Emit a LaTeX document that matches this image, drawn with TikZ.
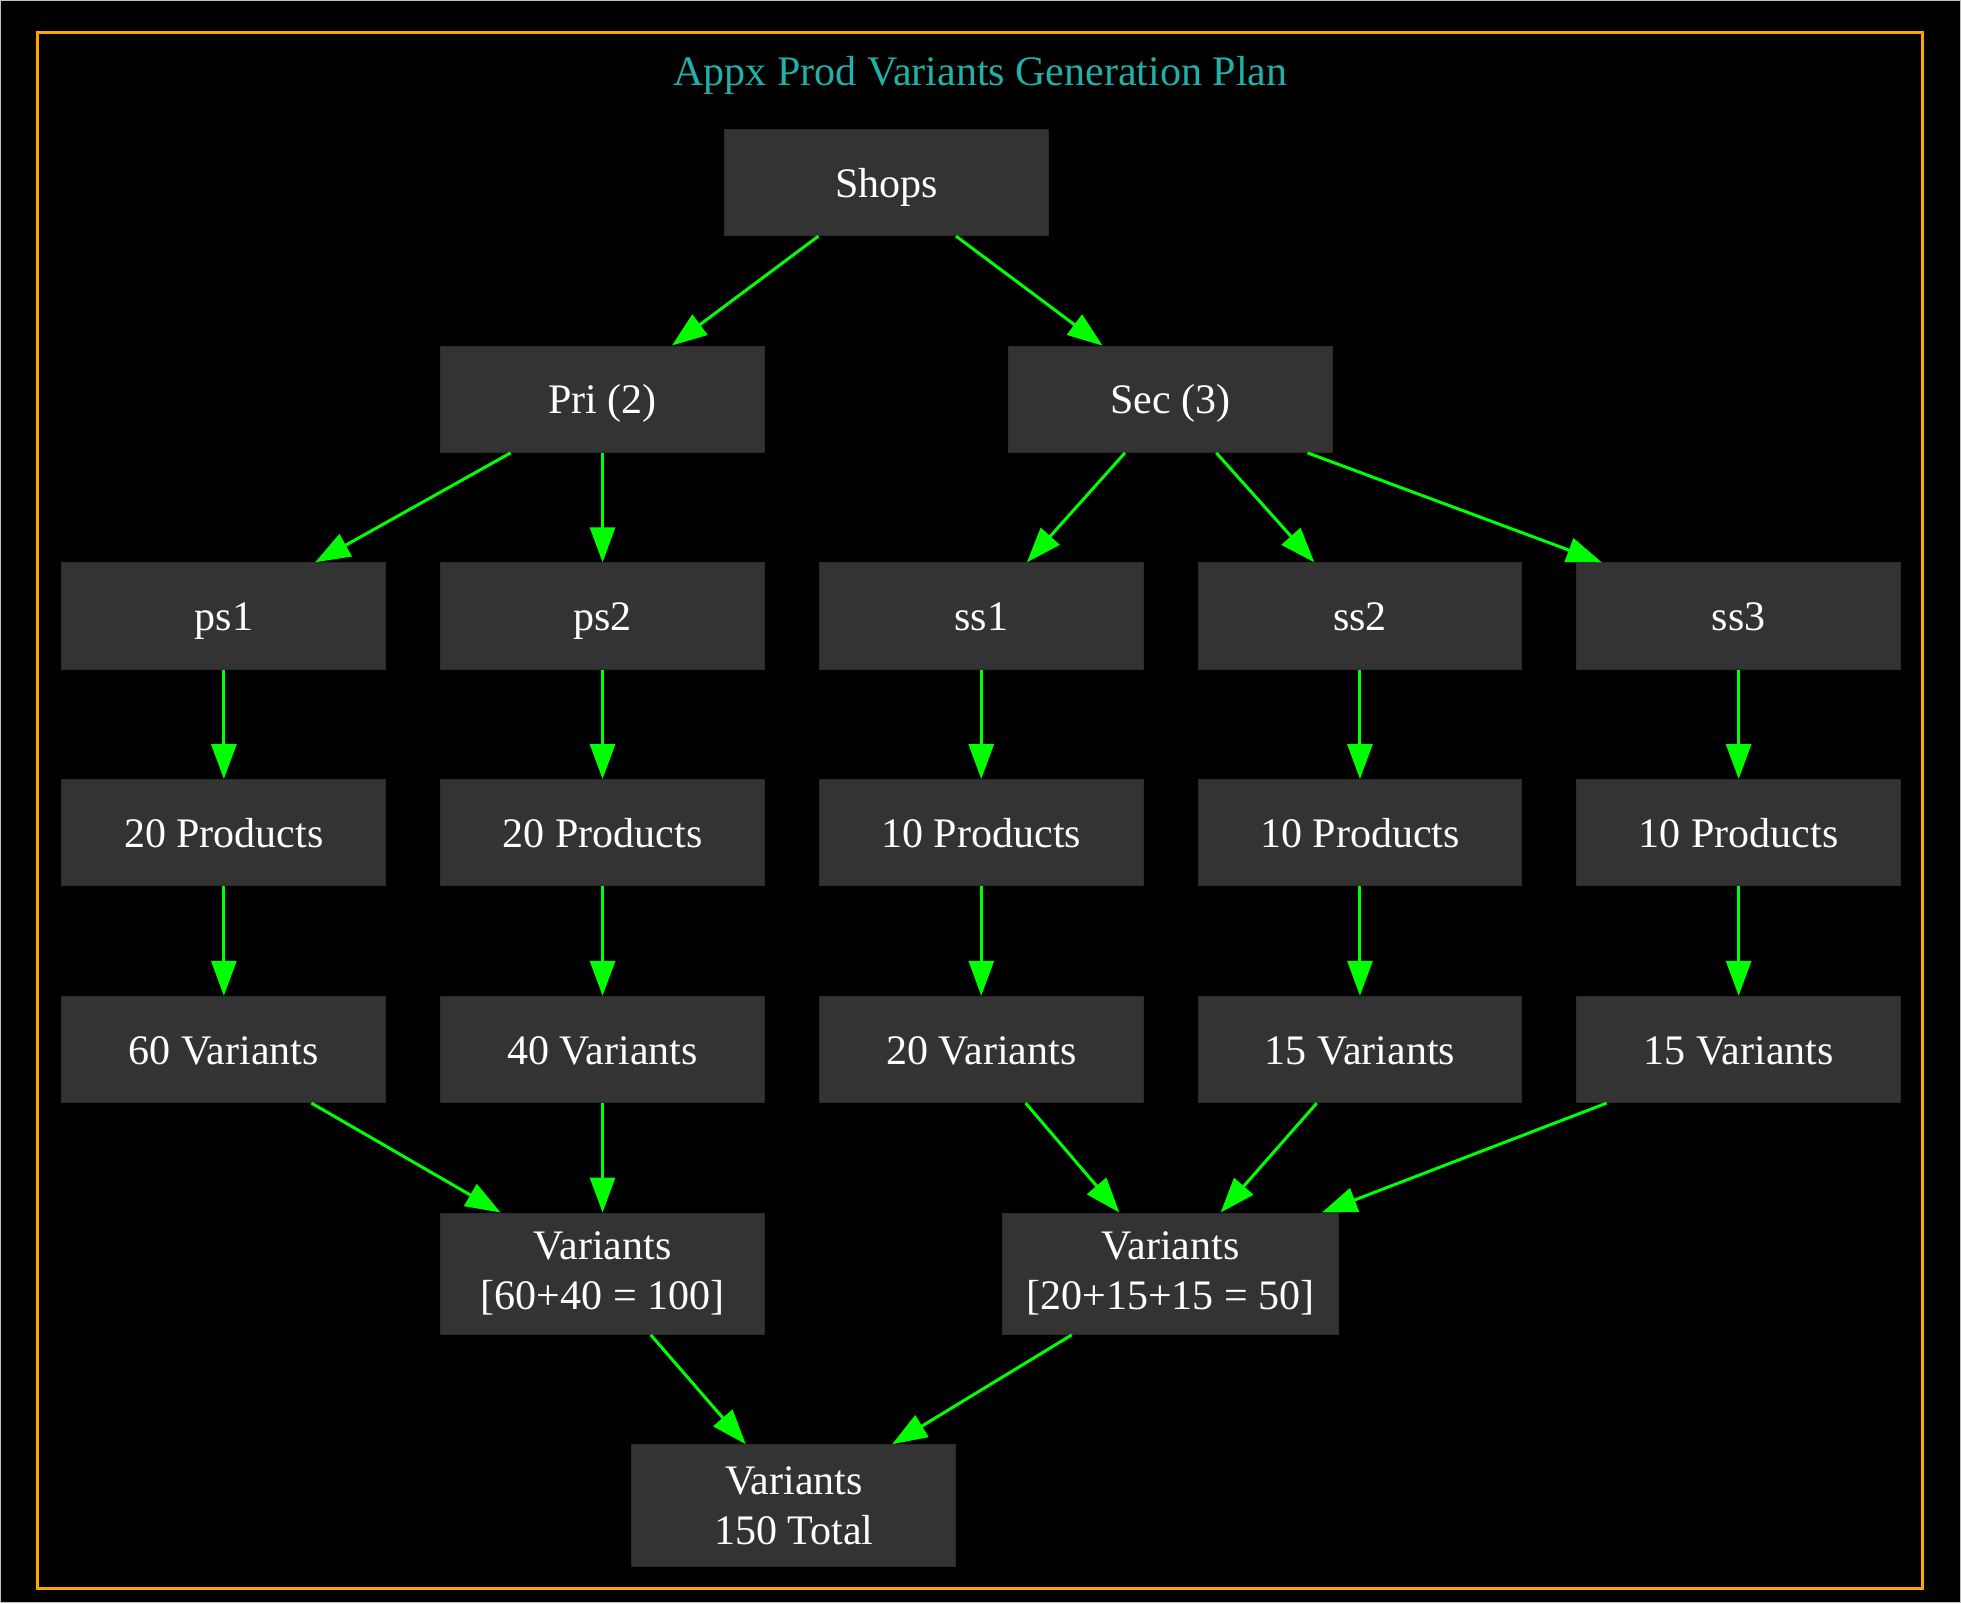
\documentclass[tikz,border=0pt]{standalone}
\usepackage{fontspec}
\setmainfont{Liberation Serif}
\usepackage{xcolor}
\usepackage{tikz}
\usetikzlibrary{arrows.meta,positioning,calc}

\definecolor{nodefill}{HTML}{333333}
\definecolor{edgegreen}{HTML}{00FF00}
\definecolor{frameorange}{HTML}{FFA500}
\definecolor{titleteal}{HTML}{20B2AA}

\begin{document}
\begin{tikzpicture}[node distance=43.75pt and 21.5pt, auto,
    box/.style={rectangle, fill=nodefill, draw=nodefill!85!black, text=white,
        minimum width=129.5pt, minimum height=42.5pt, inner xsep=9.5pt,
        text height=15.3pt, text depth=3.6pt,
        align=center, font=\fontsize{16.8}{20}\selectfont},
    sumbox/.style={box, text height=, text depth=, minimum height=48.5pt},
    flow/.style={edgegreen, line width=1.2pt, -{Triangle[length=14pt,width=10pt]}}]
    \useasboundingbox (0,0) rectangle (784pt,-641pt);
    \fill [black] (0,0) rectangle (784pt,-641pt);
    \draw [black!25, line width=0.5pt] (0.25pt,-0.25pt) rectangle (783.75pt,-640.75pt);
    \draw [frameorange, line width=1.25pt] (15pt,-13pt) rectangle (768.5pt,-635pt);
    \node (title) [text=titleteal, font=\fontsize{16.8}{20}\selectfont] at (392pt,-30pt) {Appx Prod Variants Generation Plan};

    \node (ps1) [box] at (89.5pt,-246.25pt) {ps1};
    \node (ps2) [box, right=of ps1] {ps2};
    \node (ss1) [box, right=of ps2] {ss1};
    \node (ss2) [box, right=of ss1] {ss2};
    \node (ss3) [box, right=of ss2] {ss3};

    \node (pp1) [box, below=of ps1] {20 Products};
    \node (pp2) [box, below=of ps2] {20 Products};
    \node (sp1) [box, below=of ss1] {10 Products};
    \node (sp2) [box, below=of ss2] {10 Products};
    \node (sp3) [box, below=of ss3] {10 Products};

    \node (pv1) [box, below=of pp1] {60 Variants};
    \node (pv2) [box, below=of pp2] {40 Variants};
    \node (sv1) [box, below=of sp1] {20 Variants};
    \node (sv2) [box, below=of sp2] {15 Variants};
    \node (sv3) [box, below=of sp3] {15 Variants};

    \node (pri) [box, above=of ps2] {Pri (2)};
    \coordinate (secbase) at ($(ss1.north)!0.5!(ss2.north)$);
    \node (sec) [box, above=of secbase] {Sec (3)};
    \coordinate (shopbase) at ($(pri.north)!0.5!(sec.north)$);
    \node (shops) [box, above=of shopbase] {Shops};

    \node (psum) [sumbox, below=of pv2] {Variants\\{}[60+40 = 100]};
    \coordinate (sumbase) at ($(sv1.south)!0.5!(sv2.south)$);
    \node (ssum) [sumbox, below=of sumbase] {Variants\\{}[20+15+15 = 50]};
    \node (total) [sumbox, below=of psum, xshift=76.5pt] {Variants\\150 Total};

    \draw [flow] ([xshift=-27.25pt]shops.south) -- ([xshift=27.75pt]pri.north);
    \draw [flow] ([xshift=27.75pt]shops.south) -- ([xshift=-27.25pt]sec.north);
    \draw [flow] ([xshift=-36.75pt]pri.south) -- ([xshift=36.5pt]ps1.north);
    \draw [flow] (pri) -- (ps2);
    \draw [flow] ([xshift=-18.25pt]sec.south) -- ([xshift=18.25pt]ss1.north);
    \draw [flow] ([xshift=18.25pt]sec.south) -- ([xshift=-18.25pt]ss2.north);
    \draw [flow] ([xshift=54.75pt]sec.south) -- ([xshift=-54.75pt]ss3.north);

    \draw [flow] (ps1) -- (pp1);
    \draw [flow] (ps2) -- (pp2);
    \draw [flow] (ss1) -- (sp1);
    \draw [flow] (ss2) -- (sp2);
    \draw [flow] (ss3) -- (sp3);
    \draw [flow] (pp1) -- (pv1);
    \draw [flow] (pp2) -- (pv2);
    \draw [flow] (sp1) -- (sv1);
    \draw [flow] (sp2) -- (sv2);
    \draw [flow] (sp3) -- (sv3);

    \draw [flow] ([xshift=35pt]pv1.south) -- ([xshift=-40.75pt]psum.north);
    \draw [flow] (pv2) -- (psum);
    \draw [flow] ([xshift=17.75pt]sv1.south) -- ([xshift=-20.5pt]ssum.north);
    \draw [flow] ([xshift=-17.25pt]sv2.south) -- ([xshift=20pt]ssum.north);
    \draw [flow] ([xshift=-52.75pt]sv3.south) -- ([xshift=60.5pt]ssum.north);
    \draw [flow] ([xshift=19.25pt]psum.south) -- ([xshift=-19.25pt]total.north);
    \draw [flow] ([xshift=-39.5pt]ssum.south) -- ([xshift=39.25pt]total.north);
\end{tikzpicture}
\end{document}
